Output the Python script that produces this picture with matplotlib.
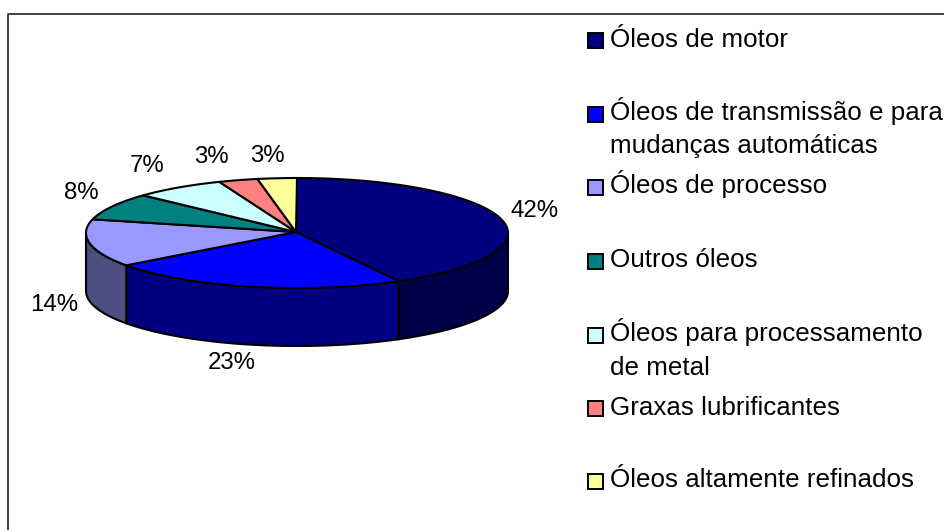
"""3D-look pie chart of lubricant oil shares with a hand-placed legend."""

import matplotlib
matplotlib.use("Agg")
import matplotlib.pyplot as plt
import numpy as np
from matplotlib.patches import Polygon, Rectangle

plt.rcParams["font.family"] = ["Liberation Sans", "DejaVu Sans"]

# Data
categories = [
    "Óleos de motor",
    "Óleos de transmissão e para\nmudanças automáticas",
    "Óleos de processo",
    "Outros óleos",
    "Óleos para processamento\nde metal",
    "Graxas lubrificantes",
    "Óleos altamente refinados",
]
shares = [42, 23, 14, 8, 7, 3, 3]
top_colors = ["#000080", "#0000FF", "#9999FF", "#008080", "#CCFFFF", "#FF8080", "#FFFF99"]
side_colors = ["#00004A", "#000080", "#4D4D80", "#004040", "#668080", "#804040", "#808050"]

# Layout, in pixels of the 944x530 picture
CX, CY = 297, 233
RX, RY = 211, 55
DEPTH = 58
label_offsets = [(33, -8), (-19, 18), (-36, 4), (-31, -14), (-31, -22), (-27, -23), (-10, -22)]
legend_baselines = [[47], [120, 153], [193], [267], [341, 375], [415], [487]]
legend_boxes = [33, 107, 180, 254, 328, 401, 474]


def rim(theta, drop=0):
    """Points on the ellipse; theta in degrees, clockwise from 12 o'clock."""
    t = np.radians(theta)
    return np.column_stack([CX + RX * np.sin(t), CY - RY * np.cos(t) + drop])


fig = plt.figure(figsize=(9.44, 5.30), dpi=100)
ax = fig.add_axes([0, 0, 1, 1])
ax.set_xlim(0, 944)
ax.set_ylim(530, 0)
ax.axis("off")

# Chart border (left and top only are inside the picture)
ax.plot([8, 8, 944], [530, 14, 14], color="#222222", linewidth=1.2)

edges = np.cumsum([0] + shares) / sum(shares) * 360

# Side walls, only for the front half
for start, stop, color in zip(edges[:-1], edges[1:], side_colors):
    lo, hi = max(start, 90), min(stop, 270)
    if lo >= hi:
        continue
    arc = np.linspace(lo, hi, 80)
    pts = np.vstack([rim(arc), rim(arc[::-1], DEPTH)])
    ax.add_patch(Polygon(pts, closed=True, facecolor=color, edgecolor="black", linewidth=1.5))

# Top faces
for start, stop, color in zip(edges[:-1], edges[1:], top_colors):
    arc = np.linspace(start, stop, 120)
    pts = np.vstack([[[CX - 1, CY - 1]], rim(arc)])
    ax.add_patch(Polygon(pts, closed=True, facecolor=color, edgecolor="black", linewidth=1.5))

# Percent labels
for start, stop, share, (dx, dy) in zip(edges[:-1], edges[1:], shares, label_offsets):
    mid = (start + stop) / 2
    drop = DEPTH if 90 < mid < 270 else 0
    x, y = rim(np.array([mid]), drop)[0]
    ax.text(x + dx, y + dy, f"{share}%", fontsize=17.3, ha="center", va="center", color="black")

# Legend
for name, color, baselines, box_y in zip(categories, top_colors, legend_baselines, legend_boxes):
    ax.add_patch(Rectangle((587.5, box_y), 15, 15, facecolor=color, edgecolor="black", linewidth=1.4))
    for line, y in zip(name.split("\n"), baselines):
        ax.text(610, y, line, fontsize=18.7, ha="left", va="baseline", color="black")

fig.savefig("out.png", dpi=100)
